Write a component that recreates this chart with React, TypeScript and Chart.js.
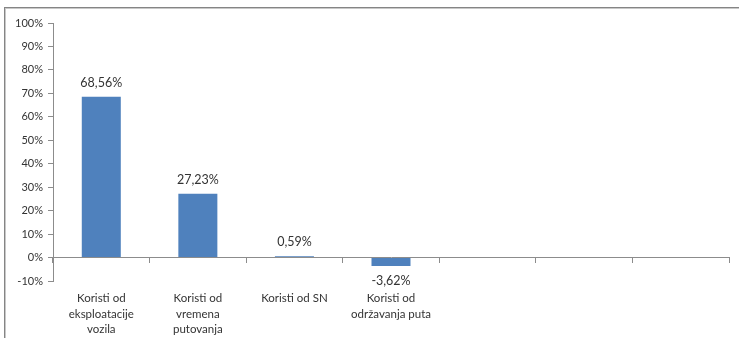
import React, { useEffect, useRef } from "react";
import { Chart, registerables } from "chart.js";

Chart.register(...registerables);

const categories: (string | string[])[] = [
  ["Koristi od", "eksploatacije", "vozila"],
  ["Koristi od", "vremena", "putovanja"],
  "Koristi od SN",
  ["Koristi od", "održavanja puta"],
  "",
  "",
  "",
];
const values: (number | null)[] = [68.56, 27.23, 0.59, -3.62, null, null, null];
const yMin = -10;
const yMax = 100;
const yStep = 10;

const FONT = "Lato, 'Liberation Sans', sans-serif";
const TEXT = "#333333";
const AXIS = "#8c8c8c";
const BAR = "#4F81BD";

const dataLabelPlugin = {
  id: "dataLabels",
  afterDatasetsDraw(chart: any) {
    const ctx = chart.ctx;
    const meta = chart.getDatasetMeta(0);
    ctx.save();
    ctx.font = `12.5px ${FONT}`;
    ctx.fillStyle = TEXT;
    ctx.textAlign = "center";
    ctx.textBaseline = "middle";
    meta.data.forEach((bar: any, i: number) => {
      const v = values[i];
      if (v === null || v === undefined) return;
      const txt = v.toFixed(2).replace(".", ",") + "%";
      const y = v >= 0 ? bar.y - 14 : bar.y + 14.5;
      ctx.fillText(txt, bar.x, y);
    });
    ctx.restore();
  },
};

export default function App() {
  const ref = useRef<HTMLCanvasElement>(null);
  useEffect(() => {
    if (!ref.current) return;
    const chart = new Chart(ref.current, {
      type: "bar",
      data: {
        labels: categories,
        datasets: [
          {
            data: values,
            backgroundColor: BAR,
            borderWidth: 0,
            barPercentage: 0.404,
            categoryPercentage: 1,
            xAxisID: "x",
          },
        ],
      },
      options: {
        responsive: false,
        animation: false,
        layout: { padding: { top: 23, right: 10, left: 0, bottom: 0 } },
        plugins: { legend: { display: false }, tooltip: { enabled: false } },
        scales: {
          x: {
            type: "category",
            position: "bottom",
            grid: { display: false, drawTicks: false },
            border: { display: false },
            ticks: {
              autoSkip: false,
              maxRotation: 0,
              minRotation: 0,
              padding: 9,
              color: TEXT,
              font: { family: FONT, size: 11.5, lineHeight: 1.38 },
            },
            afterFit(scale: any) {
              scale.height = 57;
            },
          },
          x2: {
            type: "category",
            position: { y: 0 } as any,
            grid: {
              drawOnChartArea: false,
              drawTicks: true,
              tickLength: 5,
              color: AXIS,
              offset: true,
            },
            border: { display: true, color: AXIS, width: 1 },
            ticks: { display: false },
          },
          y: {
            min: yMin,
            max: yMax,
            grid: {
              drawOnChartArea: false,
              drawTicks: true,
              tickLength: 5,
              color: AXIS,
            },
            border: { display: true, color: AXIS },
            ticks: {
              stepSize: yStep,
              padding: 5,
              color: TEXT,
              font: { family: FONT, size: 11 },
              callback: (v: any) => `${Math.round(Number(v))}%`,
            },
            afterFit(scale: any) {
              scale.width = 53;
            },
          },
        },
      },
      plugins: [dataLabelPlugin],
    });
    return () => chart.destroy();
  }, []);

  return (
    <div
      style={{
        position: "fixed",
        left: 0,
        top: 0,
        width: 739,
        height: 338,
        overflow: "hidden",
        background: "#fff",
      }}
    >
      <div
        style={{
          position: "absolute",
          left: 4,
          top: 7,
          width: 900,
          height: 500,
          borderLeft: `1px solid #858585`,
          borderTop: `1px solid #858585`,
          boxShadow: "inset 1px 1px 0 #c8c8c8",
        }}
      />
      <canvas
        ref={ref}
        width={739}
        height={338}
        style={{ position: "absolute", left: 0, top: 0 }}
      />
    </div>
  );
}
